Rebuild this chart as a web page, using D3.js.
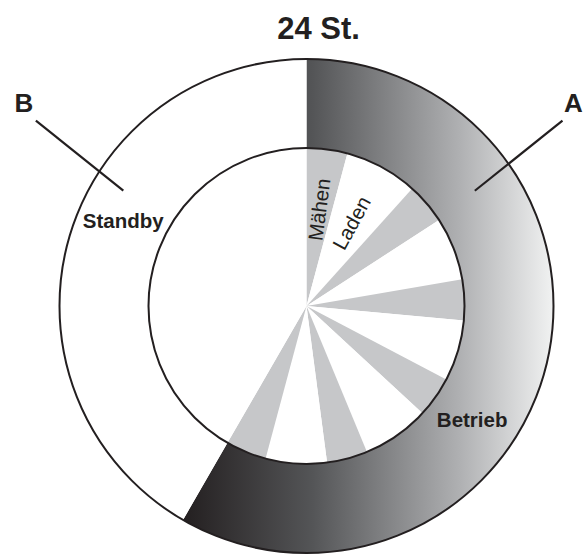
<!DOCTYPE html>
<html>
<head>
<meta charset="utf-8">
<script src="https://cdn.jsdelivr.net/npm/d3@7"></script>
<style>
  html, body { margin: 0; padding: 0; background: #fff; }
  svg { display: block; }
  text { font-family: "Liberation Sans", Arial, Helvetica, sans-serif; fill: #231f20; }
</style>
</head>
<body>
<svg id="chart" width="586" height="558"></svg>
<script>
// ---- data (hours of a 24 h day) ----
const title = "24 St.";
const outerCategories = ["A", "B"];
const outerNames = ["Betrieb", "Standby"];
const outerHours = [14, 10];

// inner cycle within operation: alternating Mähen / Laden, then standby
const innerLabels = ["Mähen", "Laden", "Mähen", "Laden", "Mähen", "Laden", "Mähen", "Laden", "Mähen", "Laden", "Mähen", "Standby"];
const innerHours  = [1, 1.8, 1, 1.55, 1, 1.5, 1, 1.65, 1, 1.5, 1, 10];
const innerTextLabels = ["Mähen", "Laden"]; // only first two wedges are labelled

// ---- layout ----
const W = 586, H = 558;
const cx = 306.5, cy = 306;
const R = 247, r = 158;
const svg = d3.select("#chart");
const defs = svg.append("defs");

const ink = "#231f20";
const grayFill = "#c6c7c9";

const pie = d3.pie().sort(null).value(d => d);
const outerArcs = pie(outerHours);
const innerArcs = pie(innerHours);

const g = svg.append("g").attr("transform", `translate(${cx},${cy})`);

// gradient across the operation ring's horizontal extent
const aArc = outerArcs[0];
const polar = (rad, ang) => [rad * Math.sin(ang), -rad * Math.cos(ang)];
const xLeft = Math.min(polar(R, aArc.endAngle)[0], polar(r, aArc.endAngle)[0]);
const grad = defs.append("linearGradient")
  .attr("id", "gradA")
  .attr("gradientUnits", "userSpaceOnUse")
  .attr("x1", xLeft).attr("y1", 0).attr("x2", R).attr("y2", 0);
[[0, "#231f20"], [0.35, "#545557"], [0.75, "#b0b1b3"], [1, "#f1f2f2"]].forEach(([o, c]) =>
  grad.append("stop").attr("offset", o).attr("stop-color", c));

// inner pie
const innerArc = d3.arc().innerRadius(0).outerRadius(r);
g.selectAll("path.inner")
  .data(innerArcs)
  .join("path")
  .attr("class", "inner")
  .attr("d", innerArc)
  .attr("fill", (d, i) => innerLabels[i] === "Mähen" ? grayFill : "#ffffff");

// outer ring
const outerArc = d3.arc().innerRadius(r).outerRadius(R);
g.selectAll("path.outer")
  .data(outerArcs)
  .join("path")
  .attr("class", "outer")
  .attr("d", outerArc)
  .attr("fill", (d, i) => i === 0 ? "url(#gradA)" : "#ffffff");

// circle outlines
g.append("circle").attr("r", R).attr("fill", "none").attr("stroke", ink).attr("stroke-width", 2);
g.append("circle").attr("r", r).attr("fill", "none").attr("stroke", ink).attr("stroke-width", 2);

// radial labels in first two wedges
innerTextLabels.forEach((lab, i) => {
  const a = innerArcs[i];
  const mid = (a.startAngle + a.endAngle) / 2;
  const [x, y] = polar(66, mid);
  g.append("text")
    .attr("x", 0).attr("y", 0)
    .attr("transform", `translate(${x},${y}) rotate(${mid * 180 / Math.PI - 90})`)
    .attr("text-anchor", "start")
    .attr("dy", "0.35em")
    .attr("font-size", 20.5)
    .text(lab);
});

// ring labels
const deg = Math.PI / 180;
const ringLabelPos = [[201, 124.5 * deg], [202, -65.1 * deg]];
outerNames.forEach((n, i) => {
  const [x, y] = polar(ringLabelPos[i][0], ringLabelPos[i][1]);
  g.append("text")
    .attr("x", x).attr("y", y).attr("dy", "0.35em")
    .attr("text-anchor", "middle")
    .attr("font-size", 20.5).attr("font-weight", "bold")
    .text(n);
});

// leader lines and category letters
const leaders = [
  { a0: 55.6 * deg, r0: 204, a1: 54.1 * deg, r1: 316 },
  { a0: -57.8 * deg, r0: 216.5, a1: -55.6 * deg, r1: 328 }
];
const letterPos = [[573.5, 112], [24, 112]];
outerCategories.forEach((c, i) => {
  const L = leaders[i];
  const p0 = polar(L.r0, L.a0), p1 = polar(L.r1, L.a1);
  g.append("line")
    .attr("x1", p0[0]).attr("y1", p0[1]).attr("x2", p1[0]).attr("y2", p1[1])
    .attr("stroke", ink).attr("stroke-width", 2.2);
  svg.append("text")
    .attr("x", letterPos[i][0]).attr("y", letterPos[i][1])
    .attr("text-anchor", "middle")
    .attr("font-size", 26).attr("font-weight", "bold")
    .text(c);
});

// title
svg.append("text")
  .attr("x", 318.5).attr("y", 38.5)
  .attr("text-anchor", "middle")
  .attr("font-size", 31).attr("font-weight", "bold")
  .text(title);
</script>
</body>
</html>
